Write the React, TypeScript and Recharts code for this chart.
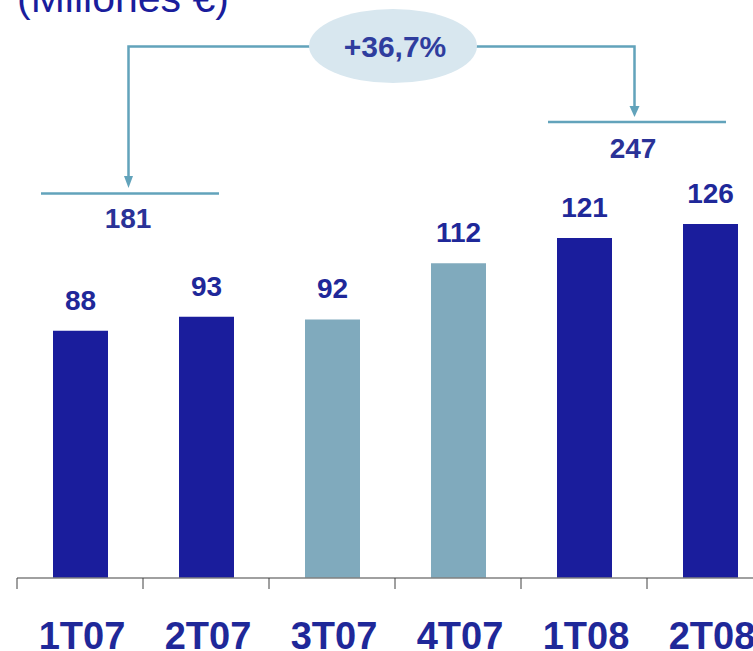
import { BarChart, Bar, XAxis, YAxis, Cell, LabelList } from 'recharts';

const quarters = ['1T07', '2T07', '3T07', '4T07', '1T08', '2T08'];
const ingresos = [88, 93, 92, 112, 121, 126];
// semestre de cada trimestre (el segundo semestre va en otro color)
const semestres = ['S1', 'S1', 'S2', 'S2', 'S1', 'S1'];
const totalLabels = ['181', '247'];
const growthLabel = '+36,7%';
const unitsLabel = '(Millones €)';

const data = quarters.map((q, i) => ({ q, value: ingresos[i], sem: semestres[i] }));

const DARK = '#1a1d9c';
const LIGHT = '#80aabd';
const TEXT = '#1f2899';
const BRACKET = '#62a3bb';
const FONT = '"Liberation Sans", Arial, sans-serif';

const QuarterTick = (props: any) => {
  const { x, y, payload } = props;
  const half = payload?.offset || 63;
  return (
    <g>
      <line x1={x - half} x2={x - half} y1={y} y2={y + 11} stroke="#404040" strokeWidth={1} />
      <text
        x={x + 2}
        y={y + 71}
        textAnchor="middle"
        fontFamily={FONT}
        fontWeight="bold"
        fontSize={38}
        fill={TEXT}
      >
        {payload.value}
      </text>
    </g>
  );
};

const Annotations = () => (
  <svg
    width={753}
    height={651}
    style={{ position: 'absolute', left: 0, top: 0, pointerEvents: 'none' }}
  >
    <text x={17} y={12} fontFamily={FONT} fontSize={41} fill={DARK}>
      {unitsLabel}
    </text>

    {/* corchete izquierdo */}
    <polyline points="128.5,178 128.5,46.5 312,46.5" fill="none" stroke={BRACKET} strokeWidth={2.5} />
    <polygon points="124,176 133,176 128.5,188" fill={BRACKET} />
    <line x1={41} x2={219} y1={193.5} y2={193.5} stroke={BRACKET} strokeWidth={2.5} />
    <text x={128} y={227.5} textAnchor="middle" fontFamily={FONT} fontWeight="bold" fontSize={28} fill="#2a3297">
      {totalLabels[0]}
    </text>

    {/* corchete derecho */}
    <polyline points="474,46.5 634.5,46.5 634.5,108" fill="none" stroke={BRACKET} strokeWidth={2.5} />
    <polygon points="629.5,106 639.5,106 634.5,117" fill={BRACKET} />
    <line x1={548} x2={726} y1={122} y2={122} stroke={BRACKET} strokeWidth={2.5} />
    <text x={633} y={158} textAnchor="middle" fontFamily={FONT} fontWeight="bold" fontSize={28} fill="#2a3297">
      {totalLabels[1]}
    </text>

    <ellipse cx={393} cy={46} rx={84} ry={37} fill="#d8e7ef" />
    <text x={395} y={57} textAnchor="middle" fontFamily={FONT} fontWeight="bold" fontSize={30} fill="#2f3d9e">
      {growthLabel}
    </text>
  </svg>
);

export default function App() {
  return (
    <div style={{ position: 'relative', width: 753, height: 651, overflow: 'hidden', background: '#fff' }}>
      <style>{'body{margin:0}'}</style>
      <BarChart
        width={773}
        height={651}
        data={data}
        margin={{ top: 16, right: 0, bottom: 0, left: 17 }}
        barCategoryGap={0}
      >
        <XAxis
          dataKey="q"
          height={73}
          axisLine={{ stroke: '#808080', strokeWidth: 1.5 }}
          tickLine={false}
          tickSize={0}
          tickMargin={0}
          interval={0}
          tick={<QuarterTick />}
        />
        <YAxis hide domain={[0, 200]} />
        <Bar dataKey="value" barSize={55} isAnimationActive={false}>
          {data.map((d) => (
            <Cell key={d.q} fill={d.sem === 'S2' ? LIGHT : DARK} />
          ))}
          <LabelList
            dataKey="value"
            position="top"
            offset={21}
            fontFamily={FONT}
            fontWeight="bold"
            fontSize={28}
            fill={TEXT}
          />
        </Bar>
      </BarChart>
      <Annotations />
    </div>
  );
}
